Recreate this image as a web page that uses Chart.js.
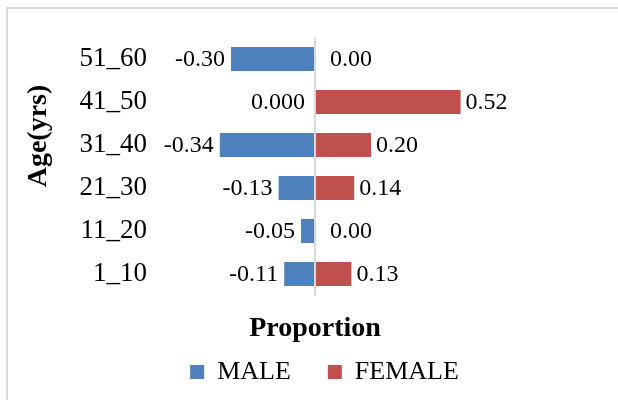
<html>
<head>
<meta charset="UTF-8">
<title>Age proportion by sex</title>
<script src="https://cdn.jsdelivr.net/npm/chart.js"></script>
<style>
  body { margin: 0; background: #fff; }
  #chartBox { width: 618px; height: 400px; }
</style>
</head>
<body>
<div id="chartBox"><canvas id="ageChart" width="618" height="400"></canvas></div>
<script>
// --- Data (top row first) ---
const ageGroups    = ['51_60', '41_50', '31_40', '21_30', '11_20', '1_10'];
const maleValues   = [-0.30, 0, -0.34, -0.13, -0.05, -0.11];
const femaleValues = [0.00, 0.52, 0.20, 0.14, 0.00, 0.13];
const maleText     = ['-0.30', '0.000', '-0.34', '-0.13', '-0.05', '-0.11'];
const femaleText   = ['0.00', '0.52', '0.20', '0.14', '0.00', '0.13'];

const SERIF = '"Liberation Serif", "Times New Roman", serif';
Chart.defaults.font.family = SERIF;
Chart.defaults.color = '#000';

// white background + the light frame (left and top edges show)
const frame = {
  id: 'frame',
  beforeDraw(chart) {
    const ctx = chart.ctx;
    ctx.save();
    ctx.fillStyle = '#fff';
    ctx.fillRect(0, 0, chart.width, chart.height);
    ctx.strokeStyle = '#d9d9d9';
    ctx.lineWidth = 2;
    ctx.beginPath();
    ctx.moveTo(7, chart.height);
    ctx.lineTo(7, 8);
    ctx.lineTo(chart.width, 8);
    ctx.stroke();
    ctx.restore();
  }
};

// value labels beside each bar + the vertical axis title
const valueLabels = {
  id: 'valueLabels',
  afterDatasetsDraw(chart) {
    const ctx = chart.ctx;
    const xs = chart.scales.x;
    ctx.save();
    ctx.font = '24px ' + SERIF;
    ctx.fillStyle = '#000';
    ctx.textBaseline = 'middle';
    chart.data.datasets.forEach((ds, i) => {
      const texts = i === 0 ? maleText : femaleText;
      chart.getDatasetMeta(i).data.forEach((bar, j) => {
        const v = ds.data[j];
        const end = xs.getPixelForValue(v);
        if (i === 0) {
          ctx.textAlign = 'right';
          ctx.fillText(texts[j], end - (v === 0 ? 10 : 6), bar.y + 1);
        } else {
          ctx.textAlign = 'left';
          ctx.fillText(texts[j], end + (v === 0 ? 15 : 5), bar.y + 1);
        }
      });
    });

    // y axis title sits higher than the plot centre
    ctx.font = 'bold 28px ' + SERIF;
    ctx.textAlign = 'center';
    ctx.translate(39, 136);
    ctx.rotate(-Math.PI / 2);
    ctx.fillText('Age(yrs)', 0, 0);
    ctx.restore();
  }
};

new Chart(document.getElementById('ageChart'), {
  type: 'bar',
  data: {
    labels: ageGroups,
    datasets: [
      { label: 'MALE', data: maleValues, backgroundColor: '#4F81BD', barPercentage: 0.56, categoryPercentage: 1 },
      { label: 'FEMALE', data: femaleValues, backgroundColor: '#C0504D', barPercentage: 0.56, categoryPercentage: 1 }
    ]
  },
  options: {
    indexAxis: 'y',
    responsive: false,
    animation: false,
    // negative right padding widens the legend band so it centres like the original;
    // the empty right axis keeps the plot's right edge in place
    layout: { padding: { left: 8, top: 37.5, right: -23, bottom: 5 } },
    plugins: {
      legend: {
        position: 'bottom',
        labels: { boxWidth: 14, boxHeight: 14, padding: 37, font: { size: 26 } }
      },
      tooltip: { enabled: false }
    },
    scales: {
      x: {
        stacked: true,
        min: -0.6, max: 0.6,
        ticks: { display: false, stepSize: 0.2 },
        grid: {
          drawTicks: false,
          lineWidth: 2,
          color: c => Math.abs(c.tick.value) < 1e-9 ? '#d9d9d9' : 'rgba(0,0,0,0)'
        },
        border: { display: false },
        title: { display: true, text: 'Proportion', font: { size: 28, weight: 'bold' }, padding: { top: 0, bottom: -23.8 } },
        afterFit: s => { s.height = 26.5; }
      },
      y: {
        stacked: true,
        ticks: { font: { size: 27 }, padding: 0, autoSkip: false },
        grid: { display: false, drawTicks: false },
        border: { display: false },
        afterFit: s => { s.width = 139; }
      },
      yRight: {
        type: 'category',
        position: 'right',
        ticks: { display: false },
        grid: { display: false, drawTicks: false },
        border: { display: false },
        afterFit: s => { s.width = 158; }
      }
    }
  },
  plugins: [frame, valueLabels]
});
</script>
</body>
</html>
